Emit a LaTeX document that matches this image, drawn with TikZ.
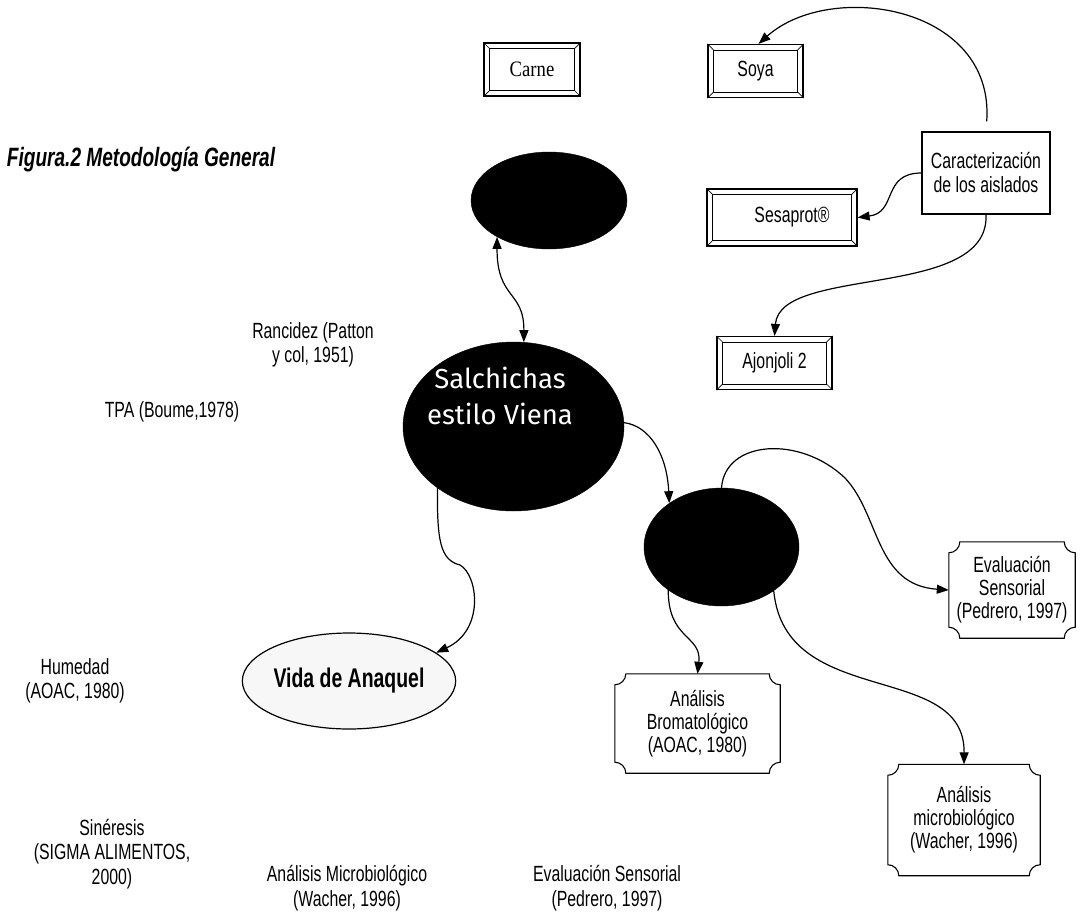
\documentclass[tikz,border=0pt]{standalone}
\usepackage{fontspec}
\setmainfont{Liberation Sans}[FakeStretch=0.72]
\newfontfamily\serifc{Liberation Serif}[FakeStretch=0.85]
\newfontfamily\roundf{Fira Sans}
\usetikzlibrary{shapes.geometric,arrows.meta}

\newcommand\bevelframe[1]{%
  \draw[line width=0.7pt] ([shift={(6pt,-6pt)}]#1.north west) rectangle ([shift={(-6pt,6pt)}]#1.south east);
  \draw[line width=0.7pt] (#1.north west) -- ++(6pt,-6pt) (#1.north east) -- ++(-6pt,-6pt)
        (#1.south west) -- ++(6pt,6pt) (#1.south east) -- ++(-6pt,6pt);}
\newcommand\plaqueframe[1]{%
  \draw[line width=1.1pt] ([xshift=11pt]#1.north west) -- ([xshift=-11pt]#1.north east)
     arc[start angle=180,end angle=270,radius=11pt] -- ([yshift=11pt]#1.south east)
     arc[start angle=90,end angle=180,radius=11pt] -- ([xshift=11pt]#1.south west)
     arc[start angle=0,end angle=90,radius=11pt] -- ([yshift=-11pt]#1.north west)
     arc[start angle=270,end angle=360,radius=11pt] -- cycle;}

\tikzset{
  bevelbox/.style={draw, line width=1.2pt, inner sep=0pt, font=\fontsize{22}{26}\selectfont},
  plaque/.style={inner sep=0pt, align=center, font=\fontsize{22}{23}\selectfont},
  blackell/.style={ellipse, fill=black, draw=black, inner sep=0pt},
  lbl/.style={align=center, font=\fontsize{22}{24.5}\selectfont},
  conn/.style={line width=1.2pt, -{Triangle[length=12pt,width=9pt]}},
}

\begin{document}
\begin{tikzpicture}[x=1pt,y=1pt]
\useasboundingbox (0,0) rectangle (1083,-919);

% title
\node[font=\fontsize{26.5}{30}\selectfont\bfseries\itshape] (title) at (141,-160) {Figura.2 Metodología General};

% bevel boxes
\node[bevelbox, minimum width=96pt, minimum height=53pt] (carne) at (532,-69.5) {\serifc Carne};
\node[bevelbox, minimum width=95pt, minimum height=53pt] (soya) at (755.5,-71) {Soya};
\node[bevelbox, minimum width=150pt, minimum height=57pt] (ses) at (782,-217.5) {\hspace*{20pt}Sesaprot®};
\node[bevelbox, minimum width=115pt, minimum height=53pt] (ajo) at (774.5,-363) {Ajonjoli 2};
\bevelframe{carne}\bevelframe{soya}\bevelframe{ses}\bevelframe{ajo}

% characterization box
\node[draw, line width=1.2pt, minimum width=128pt, minimum height=82pt, align=center,
      font=\fontsize{22}{24}\selectfont] (car) at (986,-173) {Caracterización\\de los aislados};

% ellipses
\node[blackell, minimum width=156pt, minimum height=97pt] (top) at (549,-200.5) {};
\node[blackell, minimum width=221pt, minimum height=169pt] (salch) at (513.5,-426.5) {};
\node[align=center, text=white, font=\roundf\fontsize{27.5}{36}\selectfont] (salchtxt) at (500,-396) {Salchichas\\estilo Viena};
\node[blackell, minimum width=155pt, minimum height=118pt] (e2) at (721.5,-547) {};
\node[ellipse, draw, line width=1.2pt, fill=black!3, minimum width=208pt, minimum height=96pt, inner sep=0pt,
      font=\fontsize{27}{30}\selectfont\bfseries] (vida) at (349,-681) {Vida de Anaquel};

% plaque boxes
\node[plaque, minimum width=126pt, minimum height=96pt] (eval) at (1012,-590) {Evaluación\\Sensorial\\(Pedrero, 1997)};
\node[plaque, minimum width=165pt, minimum height=99pt] (brom) at (697.5,-723.5) {Análisis\\Bromatológico\\(AOAC, 1980)};
\node[plaque, minimum width=152pt, minimum height=111pt] (micro) at (964,-820) {Análisis\\microbiológico\\(Wacher, 1996)};
\plaqueframe{eval}\plaqueframe{brom}\plaqueframe{micro}

% free labels
\node[lbl] (ranc) at (313,-345) {Rancidez (Patton\\y col, 1951)};
\node[lbl] (tpa) at (172,-412) {TPA (Boume,1978)};
\node[lbl] (hum) at (75,-681) {Humedad\\(AOAC, 1980)};
\node[lbl] (sin) at (112,-854) {Sinéresis\\(SIGMA ALIMENTOS,\\2000)};
\node[lbl] (amic) at (347,-888) {Análisis Microbiológico\\(Wacher, 1996)};
\node[lbl] (esen) at (607,-888) {Evaluación Sensorial\\(Pedrero, 1997)};

% connectors
\draw[conn, shorten <=10pt] (car.north) .. controls (995,-5) and (830,20) .. ([xshift=3pt]soya.north);
\draw[conn] (car.west) .. controls +(-40,0) and +(40,5) .. (ses.east);
\draw[conn] (car.south) .. controls (990,-300) and (780,-265) .. (ajo.north);
\draw[line width=1.2pt, {Triangle[length=12pt,width=9pt]}-{Triangle[length=12pt,width=9pt]}]
   (top.215) .. controls (497,-300) and (524,-290) .. (salch.83);
\draw[conn] (salch.2) .. controls (650,-426) and (667,-455) .. (e2.140);
\draw[conn] (salch.219) .. controls (437,-540) and (440,-560) .. (460,-565)
            .. controls (478,-575) and (485,-630) .. (vida.18);
\draw[conn] (e2.north) .. controls (725,-440) and (800,-435) .. (845,-478)
            .. controls (880,-515) and (875,-585) .. (eval.west);
\draw[conn] (e2.219) .. controls (668,-640) and (702,-635) .. (brom.north);
\draw[conn] (e2.320) .. controls (785,-710) and (965,-660) .. (micro.north);
\end{tikzpicture}
\end{document}
